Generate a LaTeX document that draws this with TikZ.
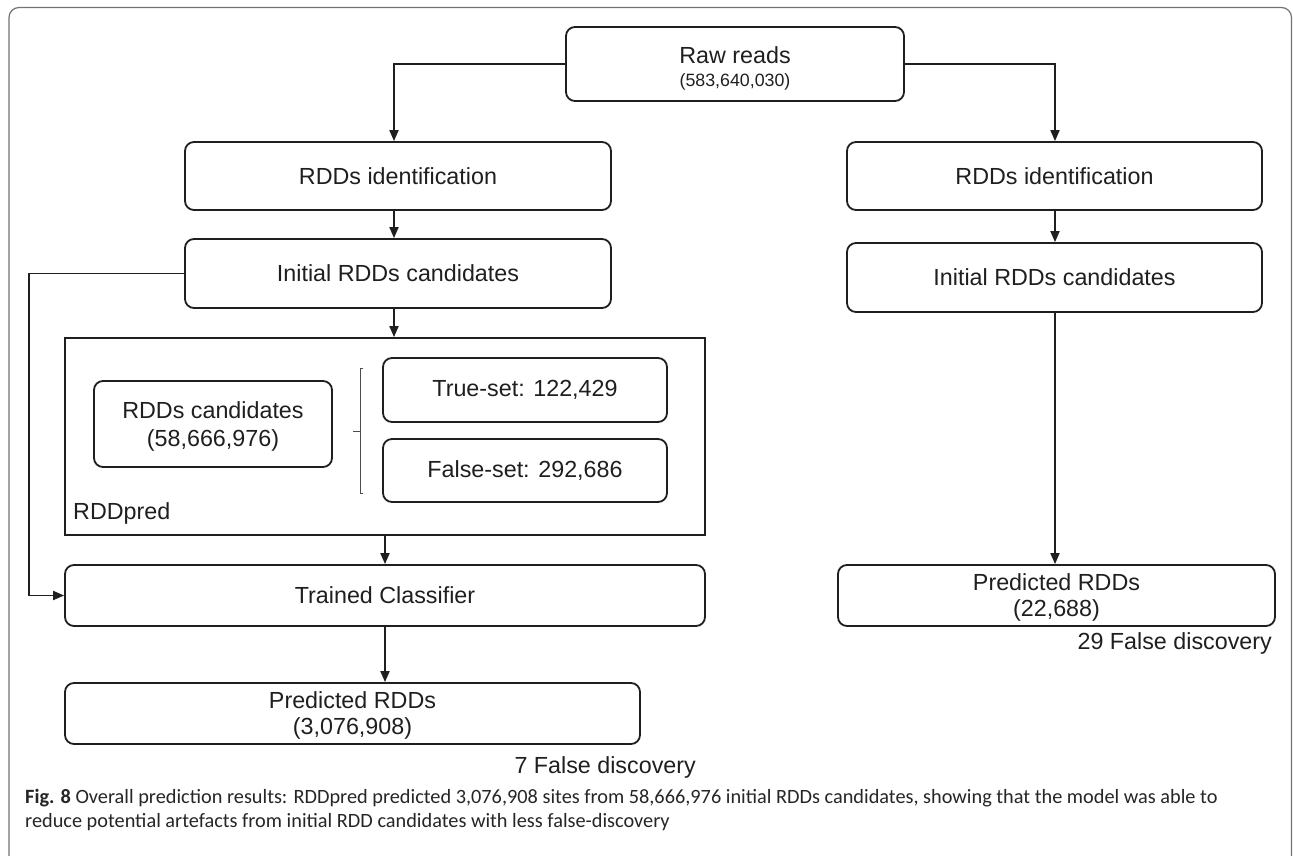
\documentclass[tikz,border=0pt]{standalone}
\usepackage{fontspec}
\setmainfont{Liberation Sans}
\newfontfamily\capfont{Carlito}
\usetikzlibrary{arrows.meta}
\begin{document}
\begin{tikzpicture}[x=1pt,y=-1pt,
  box/.style={draw=black!88, line width=1.8pt, rounded corners=9pt, inner sep=0pt},
  sbox/.style={draw=black!88, line width=1.8pt, inner sep=0pt},
  conn/.style={draw=black!88, line width=1.8pt},
  arr/.style={conn, -{Triangle[length=11pt,width=9pt]}},
  txt/.style={font=\fontsize{23.3}{27}\selectfont, inner sep=0pt, text=black!88},
  stxt/.style={font=\fontsize{17.8}{20}\selectfont, inner sep=0pt, text=black!88},
  captxt/.style={font=\capfont\fontsize{20.3}{24}\selectfont, inner sep=0pt, text=black!85, anchor=base west},
  outerframe/.style={draw=black!55, line width=1.2pt, rounded corners=10pt}]
\useasboundingbox (0,0) rectangle (1293,856);
\fill[white] (0,0) rectangle (1293,856);
\draw[outerframe] (9,880) -- (9,7.5) -- (1291.5,7.5) -- (1291.5,880);

% top
\node[box, minimum width=338pt, minimum height=74pt] (raw) at (735,64) {};
\node[txt] (rawt) at (735,55) {Raw reads};
\node[stxt] (rawn) at (735,82) {(583,640,030)};

% left column
\node[box, minimum width=426pt, minimum height=68pt] (lid) at (398,176) {};
\node[txt] (lidt) at (lid.center) {RDDs identification};
\node[box, minimum width=426pt, minimum height=69pt] (lini) at (398,273.5) {};
\node[txt] (linit) at (lini.center) {Initial RDDs candidates};

\node[sbox, minimum width=640pt, minimum height=197pt] (rdd) at (385,436.5) {};
\node[txt, anchor=west] (rddt) at (73,513) {RDDpred};
\node[box, minimum width=238pt, minimum height=86pt] (cand) at (213,424) {};
\node[txt] (candt1) at (213,410) {RDDs candidates};
\node[txt] (candt2) at (213,440) {(58,666,976)};
\node[box, minimum width=284pt, minimum height=64pt] (true) at (525,390) {};
\node[txt] (truet) at (true.center) {True-set: 122,429};
\node[box, minimum width=284pt, minimum height=63pt] (false) at (525,470.5) {};
\node[txt] (falset) at (false.center) {False-set: 292,686};
\draw[draw=black!70, line width=0.9pt] (363,368) -- (360,368) -- (360,493) -- (363,493);
\draw[draw=black!70, line width=0.9pt] (360,431) -- (353,431);

\node[box, minimum width=640pt, minimum height=61pt] (trained) at (385,595.5) {};
\node[txt] (trainedt) at (trained.center) {Trained Classifier};
\node[box, minimum width=575pt, minimum height=61pt] (lpred) at (352.5,713.5) {};
\node[txt] (lpredt1) at (352.5,700) {Predicted RDDs};
\node[txt] (lpredt2) at (352.5,728) {(3,076,908)};
\node[txt, anchor=east] (lfd) at (696,767) {7 False discovery};

% right column
\node[box, minimum width=415pt, minimum height=68pt] (rid) at (1054.5,176) {};
\node[txt] (ridt) at (rid.center) {RDDs identification};
\node[box, minimum width=415pt, minimum height=69pt] (rini) at (1054.5,277.5) {};
\node[txt] (rinit) at (rini.center) {Initial RDDs candidates};
\node[box, minimum width=437pt, minimum height=61pt] (rpred) at (1056.5,595.5) {};
\node[txt] (rpredt1) at (1056.5,582) {Predicted RDDs};
\node[txt] (rpredt2) at (1056.5,610) {(22,688)};
\node[txt, anchor=east] (rfd) at (1272,643) {29 False discovery};

% connectors
\coordinate (lx) at (394,0);
\coordinate (rx) at (1055,0);
\coordinate (mx) at (385,0);
\draw[arr] (raw.west) -| (lid.north -| lx);
\draw[arr] (raw.east) -| (rid.north -| rx);
\draw[arr] (lid.south -| lx) -- (lini.north -| lx);
\draw[arr] (lini.south -| lx) -- (rdd.north -| lx);
\draw[arr] (rdd.south -| mx) -- (trained.north -| mx);
\draw[arr] (trained.south -| mx) -- (lpred.north -| mx);
\coordinate (side) at (29,273.5);
\draw[arr] (lini.west) -- (side) |- (trained.west);
\draw[arr] (rid.south -| rx) -- (rini.north -| rx);
\draw[arr] (rini.south -| rx) -- (rpred.north -| rx);

% caption
\node[captxt] (cap1) at (25,803) {\textbf{Fig. 8} Overall prediction results: RDDpred predicted 3,076,908 sites from 58,666,976 initial RDDs candidates, showing that the model was able to};
\node[captxt] (cap2) at (25,827) {reduce potential artefacts from initial RDD candidates with less false-discovery};
\end{tikzpicture}
\end{document}
